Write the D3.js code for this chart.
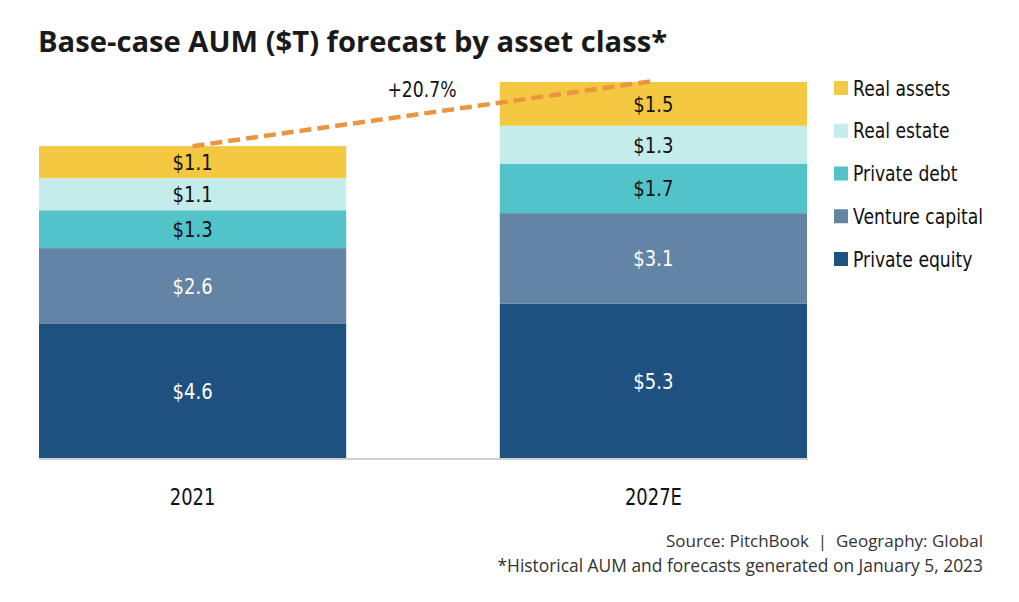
<!DOCTYPE html>
<html>
<head>
<meta charset="utf-8">
<script src="https://cdn.jsdelivr.net/npm/d3@7"></script>
<style>
  body { margin: 0; background: #fff; }
  .cond { font-family: "DejaVu Sans", sans-serif; }
</style>
</head>
<body>
<div id="chart"></div>
<script>
// data
var years = ['2021', '2027E'];
var classes = ['Private equity', 'Venture capital', 'Private debt', 'Real estate', 'Real assets'];
var privateEquity = [4.6, 5.3];
var ventureCapital = [2.6, 3.1];
var privateDebt = [1.3, 1.7];
var realEstate = [1.1, 1.3];
var realAssets = [1.1, 1.5];
var growthLabel = '+20.7%';
var colors = ['#1f5180', '#6384a5', '#52c3c9', '#c3ecea', '#f5c842'];
var labelColors = ['#fff', '#fff', '#111', '#111', '#111'];

var W = 1019, H = 602;
var series = [privateEquity, ventureCapital, privateDebt, realEstate, realAssets];
var rows = years.map(function(y, i){
    var r = { year: y };
    classes.forEach(function(c, k){ r[c] = series[k][i]; });
    return r;
});

// narrow text: no condensed face is installed, so squeeze horizontally
function place(sel, fx, fy, sx){
    return sel.attr('transform', function(d, i){
        return 'translate(' + fx(d, i) + ',' + fy(d, i) + ') scale(' + sx + ',1)';
    });
}

var svg = d3.select('#chart').append('svg')
    .attr('width', W).attr('height', H);

svg.append('text')
    .attr('x', 38).attr('y', 52)
    .attr('font-family', '"Open Sans", sans-serif')
    .attr('font-weight', 700)
    .attr('font-size', 29.2)
    .attr('fill', '#1a1a1a')
    .text('Base-case AUM ($T) forecast by asset class*');

var x = d3.scaleBand().domain(years).range([39, 807]).paddingInner(1 / 3).paddingOuter(0);
var stack = d3.stack().keys(classes)(rows);
var maxTotal = d3.max(stack[stack.length - 1], function(d){ return d[1]; });
var y = d3.scaleLinear().domain([0, maxTotal]).range([458, 82]);

// baseline
svg.append('line')
    .attr('x1', 39).attr('x2', 808)
    .attr('y1', y(0) + 1).attr('y2', y(0) + 1)
    .attr('stroke', '#d0d0d0').attr('stroke-width', 2);

var layers = svg.selectAll('g.layer').data(stack).enter().append('g')
    .attr('class', 'layer')
    .attr('fill', function(d, i){ return colors[i]; });

layers.selectAll('rect').data(function(d){ return d; }).enter().append('rect')
    .attr('x', function(d){ return x(d.data.year); })
    .attr('width', x.bandwidth())
    .attr('y', function(d){ return y(d[1]); })
    .attr('height', function(d){ return y(d[0]) - y(d[1]); });

place(layers.selectAll('text').data(function(d, i){ return d.map(function(v){ v.k = i; return v; }); })
    .enter().append('text'),
    function(d){ return x(d.data.year) + x.bandwidth() / 2; },
    function(d){ return (y(d[0]) + y(d[1])) / 2; }, 0.82)
    .attr('class', 'cond')
    .attr('dy', '0.36em')
    .attr('text-anchor', 'middle')
    .attr('font-size', 22)
    .attr('fill', function(d){ return labelColors[d.k]; })
    .text(function(d){ return '$' + d3.format('.1f')(d[1] - d[0]); });

// growth line between totals
var tops = stack[stack.length - 1];
svg.append('line')
    .attr('x1', x(years[0]) + x.bandwidth() / 2).attr('y1', y(tops[0][1]))
    .attr('x2', x(years[1]) + x.bandwidth() / 2).attr('y2', y(tops[1][1]) - 1)
    .attr('stroke', '#eb9541').attr('stroke-width', 4.5)
    .attr('stroke-dasharray', '12,6');

svg.append('text')
    .attr('class', 'cond')
    .attr('transform', 'translate(422,90) scale(0.84,1)')
    .attr('dy', '0.36em')
    .attr('text-anchor', 'middle')
    .attr('font-size', 20.5)
    .attr('fill', '#111')
    .text(growthLabel);

// x labels
place(svg.selectAll('text.xlab').data(years).enter().append('text'),
    function(d){ return x(d) + x.bandwidth() / 2; },
    function(){ return 497; }, 0.78)
    .attr('class', 'cond xlab')
    .attr('dy', '0.36em')
    .attr('text-anchor', 'middle')
    .attr('font-size', 23)
    .attr('fill', '#111')
    .text(function(d){ return d; });

// legend, top to bottom
var legendItems = classes.slice().reverse();
var ly = d3.scalePoint().domain(legendItems).range([88, 259]);
var leg = svg.selectAll('g.leg').data(legendItems).enter().append('g')
    .attr('class', 'leg')
    .attr('transform', function(d){ return 'translate(834,' + ly(d) + ')'; });
leg.append('rect')
    .attr('x', 0).attr('y', -7).attr('width', 14).attr('height', 14)
    .attr('fill', function(d){ return colors[classes.indexOf(d)]; });
leg.append('text')
    .attr('class', 'cond')
    .attr('transform', 'translate(19,0) scale(0.8,1)')
    .attr('dy', '0.36em')
    .attr('font-size', 21.5)
    .attr('fill', '#111')
    .text(function(d){ return d; });

// footnotes
var notes = ['Source: PitchBook  |  Geography: Global', '*Historical AUM and forecasts generated on January 5, 2023'];
svg.selectAll('text.note').data(notes).enter().append('text')
    .attr('class', 'note')
    .attr('x', 983)
    .attr('y', function(d, i){ return 547 + i * 25; })
    .attr('text-anchor', 'end')
    .attr('font-family', '"Open Sans", sans-serif')
    .attr('font-size', function(d, i){ return i ? 17.4 : 17; })
    .attr('fill', '#333')
    .attr('xml:space', 'preserve')
    .style('white-space', 'pre')
    .text(function(d){ return d; });
</script>
</body>
</html>
